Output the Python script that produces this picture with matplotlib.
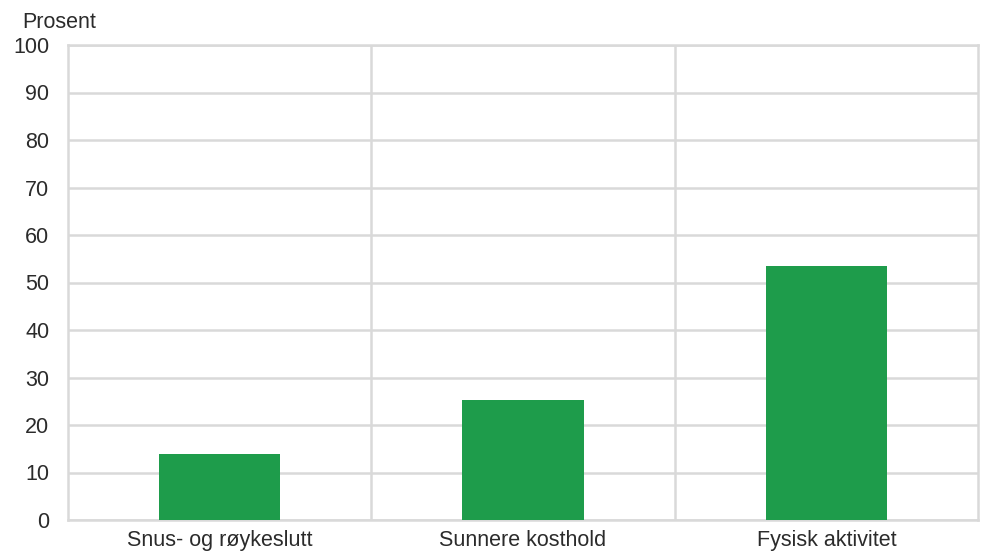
import matplotlib
matplotlib.use("Agg")
import matplotlib.pyplot as plt
from matplotlib.ticker import FixedLocator

# Andel som ønsker hjelp, i prosent
categories = ["Snus- og røykeslutt", "Sunnere kosthold", "Fysisk aktivitet"]
values = [13.8, 25.3, 53.5]
y_ticks = list(range(0, 101, 10))

bar_color = "#1e9c4b"
grid_color = "#d9d9d9"
text_color = "#2b2b2b"

plt.rcParams["font.family"] = ["Liberation Sans", "DejaVu Sans"]

fig = plt.figure(figsize=(9.93, 5.59), dpi=100)
ax = fig.add_axes([68 / 993, 39 / 559, 910 / 993, 475 / 559])

x = list(range(len(categories)))
ax.bar(x, values, width=0.4, color=bar_color, zorder=3)

ax.set_xlim(-0.5, len(categories) - 0.5)
ax.set_ylim(0, 100)
ax.set_yticks(y_ticks)
ax.set_xticks(x)
ax.set_xticklabels(categories)
ax.xaxis.set_minor_locator(FixedLocator([0.5, 1.5]))

# horisontale og vertikale rutelinjer
ax.grid(axis="y", which="major", color=grid_color, linewidth=1.8, zorder=0)
ax.grid(axis="x", which="minor", color=grid_color, linewidth=1.8, zorder=0)
ax.grid(axis="x", which="major", visible=False)

for side in ["left", "right", "top", "bottom"]:
    ax.spines[side].set_color(grid_color)
    ax.spines[side].set_linewidth(1.8)
    ax.spines[side].set_zorder(1)

ax.tick_params(axis="both", which="both", length=0, labelsize=15.5, colors=text_color)
ax.tick_params(axis="y", pad=13.5)
ax.tick_params(axis="x", pad=7)

fig.text(22 / 993, 1 - 22 / 559, "Prosent", fontsize=15.5, color=text_color,
         ha="left", va="center")

fig.savefig("out.png", dpi=100)
